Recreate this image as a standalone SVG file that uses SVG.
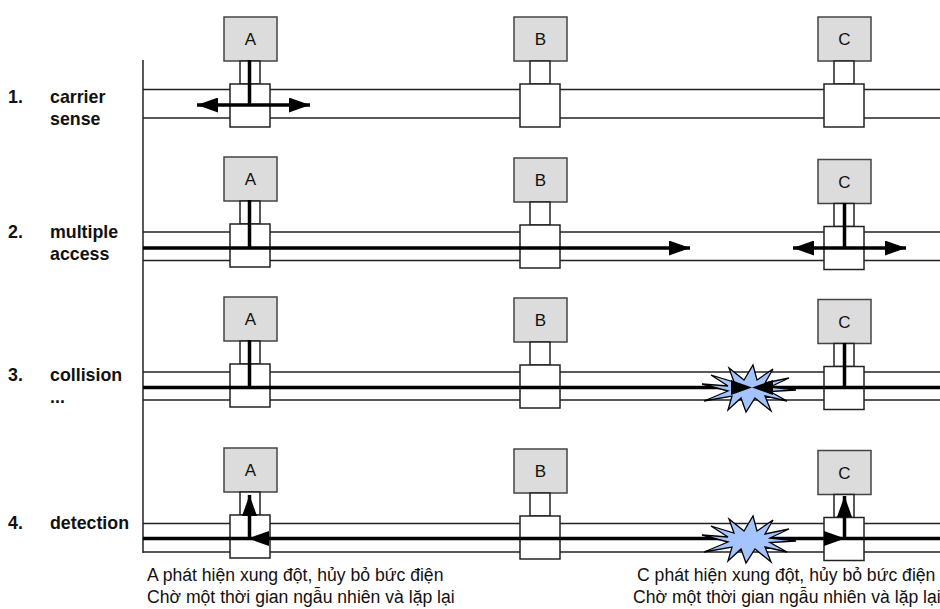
<svg xmlns="http://www.w3.org/2000/svg" width="940" height="609" viewBox="0 0 940 609">
<style>
.bus{stroke:#222;stroke-width:1.5;fill:none}
.box{fill:#dcdcdc;stroke:#444;stroke-width:1.5}
.stub,.tap{fill:#fff;stroke:#222;stroke-width:1.5}
.nl{font-family:"Liberation Sans",Arial,sans-serif;font-size:17px;fill:#111;text-anchor:middle}
.lbl{font-family:"Liberation Sans",Arial,sans-serif;font-size:17.8px;font-weight:bold;fill:#111}
.cap{font-family:"Liberation Sans",Arial,sans-serif;font-size:17.6px;fill:#111}
.thick{stroke:#000;stroke-width:3.5;fill:none}
.head{stroke:none;fill:none}
.star{fill:#a4c4ff;stroke:#000;stroke-width:1.3}
</style>
<defs>
<marker id="ah" markerUnits="userSpaceOnUse" viewBox="0 0 21 15" refX="21" refY="7.5" markerWidth="21" markerHeight="15" orient="auto-start-reverse">
<path d="M0,0 L21,7.5 L0,15 Z" fill="#000"/>
</marker>
<polygon id="burst" class="star" points="47,1 21,2.5 38,12 16,7 22,22 6,9 -3,23 -8,9 -21,21 -17,7 -45,12 -21,2 -47,-5 -21,-3 -38,-14 -15,-7 -20,-21 -5,-9 4,-24 8,-9 24,-20 16,-6 40,-11 21,-2"/>
</defs>
<rect width="940" height="609" fill="#fff"/>

<g id="labels">
<text class="lbl" x="8" y="103">1.</text><text class="lbl" x="50" y="103">carrier</text><text class="lbl" x="50" y="125">sense</text>
<text class="lbl" x="8" y="238">2.</text><text class="lbl" x="50" y="238">multiple</text><text class="lbl" x="50" y="260">access</text>
<text class="lbl" x="8" y="381">3.</text><text class="lbl" x="50" y="381">collision</text><text class="lbl" x="50" y="403">...</text>
<text class="lbl" x="8" y="529">4.</text><text class="lbl" x="50" y="529">detection</text>
</g>

<g id="bus">
<line class="bus" x1="143" y1="60" x2="143" y2="553"/>
<line class="bus" x1="143" y1="89.5" x2="940" y2="89.5"/><line class="bus" x1="143" y1="118" x2="940" y2="118"/>
<line class="bus" x1="143" y1="232" x2="940" y2="232"/><line class="bus" x1="143" y1="260.5" x2="940" y2="260.5"/>
<line class="bus" x1="143" y1="372" x2="940" y2="372"/><line class="bus" x1="143" y1="400" x2="940" y2="400"/>
<line class="bus" x1="143" y1="523.5" x2="940" y2="523.5"/><line class="bus" x1="143" y1="552" x2="940" y2="552"/>
</g>

<g id="A1"><rect class="box" x="224" y="17" width="53" height="44"/><rect class="stub" x="240" y="61" width="20" height="23"/><rect class="tap" x="230" y="84" width="40" height="43"/><text class="nl" x="250.5" y="45">A</text></g>
<g id="B1"><rect class="box" x="514" y="17" width="53" height="44"/><rect class="stub" x="530" y="61" width="20" height="23"/><rect class="tap" x="520" y="84" width="40" height="43"/><text class="nl" x="540.5" y="45">B</text></g>
<g id="C1"><rect class="box" x="818" y="17" width="53" height="44"/><rect class="stub" x="834" y="61" width="20" height="23"/><rect class="tap" x="824" y="84" width="40" height="43"/><text class="nl" x="844.5" y="45">C</text></g>

<g id="A2"><rect class="box" x="224" y="157" width="53" height="44"/><rect class="stub" x="240" y="201" width="20" height="23"/><rect class="tap" x="230" y="224" width="40" height="43"/><text class="nl" x="250.5" y="185">A</text></g>
<g id="B2"><rect class="box" x="514" y="158" width="53" height="44"/><rect class="stub" x="530" y="202" width="20" height="23"/><rect class="tap" x="520" y="225" width="40" height="43"/><text class="nl" x="540.5" y="186">B</text></g>
<g id="C2"><rect class="box" x="818" y="159.5" width="53" height="44"/><rect class="stub" x="834" y="203.5" width="20" height="23"/><rect class="tap" x="824" y="226.5" width="40" height="43"/><text class="nl" x="844.5" y="187.5">C</text></g>

<g id="A3"><rect class="box" x="224" y="297" width="53" height="44"/><rect class="stub" x="240" y="341" width="20" height="23"/><rect class="tap" x="230" y="364" width="40" height="43"/><text class="nl" x="250.5" y="325">A</text></g>
<g id="B3"><rect class="box" x="514" y="298" width="53" height="44"/><rect class="stub" x="530" y="342" width="20" height="23"/><rect class="tap" x="520" y="365" width="40" height="43"/><text class="nl" x="540.5" y="326">B</text></g>
<g id="C3"><rect class="box" x="818" y="299.5" width="53" height="44"/><rect class="stub" x="834" y="343.5" width="20" height="23"/><rect class="tap" x="824" y="366.5" width="40" height="43"/><text class="nl" x="844.5" y="327.5">C</text></g>

<g id="A4"><rect class="box" x="224" y="448" width="53" height="44"/><rect class="stub" x="240" y="492" width="20" height="23"/><rect class="tap" x="230" y="515" width="40" height="43"/><text class="nl" x="250.5" y="476">A</text></g>
<g id="B4"><rect class="box" x="514" y="449" width="53" height="44"/><rect class="stub" x="530" y="493" width="20" height="23"/><rect class="tap" x="520" y="516" width="40" height="43"/><text class="nl" x="540.5" y="477">B</text></g>
<g id="C4"><rect class="box" x="818" y="450.5" width="53" height="44"/><rect class="stub" x="834" y="494.5" width="20" height="23"/><rect class="tap" x="824" y="517.5" width="40" height="43"/><text class="nl" x="844.5" y="478.5">C</text></g>

<g id="connectors">
<path class="thick" d="M249.5,60 V105"/>
<path class="thick" d="M197,105 H310" marker-start="url(#ah)" marker-end="url(#ah)"/>
<path class="thick" d="M249.5,200 V248"/>
<path class="thick" d="M143,248 H690" marker-end="url(#ah)"/>
<path class="thick" d="M844.5,203 V248"/>
<path class="thick" d="M793,248 H906" marker-start="url(#ah)" marker-end="url(#ah)"/>
<path class="thick" d="M249.5,340 V387.5"/>
<path class="thick" d="M844.5,343 V387.5"/>
<path class="thick" d="M143,387.5 H940"/>
<use href="#burst" x="749" y="389"/>
<path class="head" d="M735,387.5 H752" marker-end="url(#ah)"/>
<path class="head" d="M770,387.5 H752" marker-end="url(#ah)"/>
<path class="thick" d="M143,538.5 H940"/>
<use href="#burst" x="749" y="540"/>
<path class="head" d="M272,538.5 H248" marker-end="url(#ah)"/>
<path class="head" d="M822,538.5 H845" marker-end="url(#ah)"/>
<path class="thick" d="M249.5,538.5 V495" marker-end="url(#ah)"/>
<path class="thick" d="M844.5,538.5 V496" marker-end="url(#ah)"/>
</g>

<g id="captions">
<text class="cap" x="147" y="581">A phát hiện xung đột, hủy bỏ bức điện</text>
<text class="cap" x="147" y="603">Chờ một thời gian ngẫu nhiên và lặp lại</text>
<text class="cap" x="637" y="581">C phát hiện xung đột, hủy bỏ bức điện</text>
<text class="cap" x="633" y="603">Chờ một thời gian ngẫu nhiên và lặp lại</text>
</g>
</svg>
